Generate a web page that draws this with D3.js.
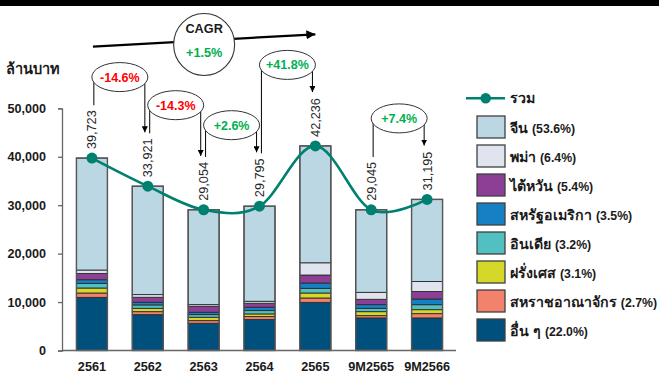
<!DOCTYPE html>
<html><head><meta charset="utf-8">
<script src="https://cdn.jsdelivr.net/npm/d3@7"></script>
<style>
html,body{margin:0;padding:0;background:#fff;}
svg{display:block;font-family:"Liberation Sans",Arial,"DejaVu Sans",sans-serif;}
</style></head>
<body><svg id="c" width="659" height="376"></svg>
<script>
const categories = ["2561","2562","2563","2564","2565","9M2565","9M2566"];
const totals   = [39723,33921,29054,29795,42236,29045,31195];
const others   = [10970,7400,5620,6380,9940,6720,6720];
const uk       = [900,620,550,620,900,480,890];
const france   = [1030,690,690,550,1030,820,820];
const india    = [960,700,550,690,960,690,1030];
const usa      = [750,550,480,690,1100,760,1170];
const taiwan   = [1300,1030,1230,820,1650,1100,1560];
const myanmar  = [700,550,350,410,2530,1440,2060];
const china    = [23113,22381,19584,19635,24126,17035,16945];
const seriesKeys = ["others","uk","france","india","usa","taiwan","myanmar","china"];
const seriesNames = ["อื่น ๆ","สหราชอาณาจักร","ฝรั่งเศส","อินเดีย","สหรัฐอเมริกา","ไต้หวัน","พม่า","จีน"];
const seriesShares = ["(22.0%)","(2.7%)","(3.1%)","(3.2%)","(3.5%)","(5.4%)","(6.4%)","(53.6%)"];
const seriesColors = ["#00507d","#f2826c","#d5d829","#52bfc0","#1680c4","#8c3f95","#dfe4ef","#bad7e3"];
const totalLabel = "รวม";
const yTicks = [0,10000,20000,30000,40000,50000];
const yTitle = "ล้านบาท";
const growthLabels = ["-14.6%","-14.3%","+2.6%","+41.8%","+7.4%"];
const growthFrom = ["2561","2562","2563","2564","9M2565"];
const growthTo   = ["2562","2563","2564","2565","9M2566"];
const cagrTitle = "CAGR";
const cagrValue = "+1.5%";

const seriesData = {others,uk,france,india,usa,taiwan,myanmar,china};
const rows = categories.map((c,i)=>{const r={cat:c,total:totals[i]};seriesKeys.forEach(k=>r[k]=seriesData[k][i]);return r;});

const svg = d3.select("#c");
const W=659,H=376;
svg.append("rect").attr("width",W).attr("height",H).attr("fill","#fff");
svg.append("rect").attr("x",0).attr("y",0).attr("width",W).attr("height",6).attr("fill","#000");

const x = d3.scaleBand().domain(categories).range([64,455]).paddingInner(0.445).paddingOuter(0.2225);
const y = d3.scaleLinear().domain([0,50000]).range([350.5,108.3]);
const cx = c => x(c)+x.bandwidth()/2;

const defs = svg.append("defs");
defs.append("marker").attr("id","arr").attr("viewBox","0 0 10 10").attr("refX",10).attr("refY",5)
  .attr("markerWidth",6).attr("markerHeight",6).attr("markerUnits","userSpaceOnUse").attr("orient","auto")
  .append("path").attr("d","M0,0L10,5L0,10z").attr("fill","#000");
defs.append("marker").attr("id","arr2").attr("viewBox","0 0 10 10").attr("refX",10).attr("refY",5)
  .attr("markerWidth",9).attr("markerHeight",9).attr("markerUnits","userSpaceOnUse").attr("orient","auto")
  .append("path").attr("d","M0,0L10,5L0,10z").attr("fill","#000");

// y axis
const ya = svg.append("g").attr("transform","translate(62,0)")
  .call(d3.axisLeft(y).tickValues(yTicks).tickSize(4).tickPadding(12).tickFormat(d3.format(",")));
ya.select(".domain").attr("stroke","#666").attr("stroke-width",1.3);
ya.selectAll(".tick line").attr("stroke","#666").attr("stroke-width",1.3);
ya.selectAll(".tick text").attr("font-size",12.6).attr("font-weight","bold").attr("fill","#1a1a1a").attr("font-family","Liberation Sans, Arial, sans-serif");

svg.append("text").attr("x",6).attr("y",74).attr("font-size",14.5).attr("font-weight","bold").attr("fill","#1a1a1a").text(yTitle);

// stacked bars
const stack = d3.stack().keys(seriesKeys)(rows);
svg.append("g").selectAll("g").data(stack).join("g")
  .attr("fill",(d,i)=>seriesColors[i])
  .selectAll("rect").data(d=>d).join("rect")
  .attr("x",d=>x(d.data.cat)).attr("width",x.bandwidth())
  .attr("y",d=>y(d[1])).attr("height",d=>y(d[0])-y(d[1]))
  .attr("stroke","#2b2b2b").attr("stroke-width",0.9);
svg.append("g").selectAll("rect").data(rows).join("rect")
  .attr("x",d=>x(d.cat)).attr("width",x.bandwidth()).attr("y",d=>y(d.total)).attr("height",d=>y(0)-y(d.total))
  .attr("fill","none").attr("stroke","#555").attr("stroke-width",1.4);

// x axis
const xa = svg.append("g").attr("transform","translate(0,350.5)").call(d3.axisBottom(x).tickSize(0).tickPadding(11));
xa.select(".domain").attr("d","M62,0H456").attr("stroke","#666").attr("stroke-width",1.3);
xa.selectAll(".tick text").attr("font-size",12.7).attr("font-weight","bold").attr("fill","#1a1a1a").attr("font-family","Liberation Sans, Arial, sans-serif");

// total line
const lineColor = "#00806f";
svg.append("path").datum(rows).attr("fill","none").attr("stroke",lineColor).attr("stroke-width",2.6)
  .attr("d",d3.line().x(d=>cx(d.cat)).y(d=>y(d.total)).curve(d3.curveCatmullRom.alpha(0)));
svg.append("g").selectAll("circle").data(rows).join("circle")
  .attr("cx",d=>cx(d.cat)).attr("cy",d=>y(d.total)).attr("r",5.5).attr("fill",lineColor);

// data labels
const labelTop = {};
const lg = svg.append("g");
rows.forEach(d=>{
  const t = lg.append("text").attr("transform",`translate(${cx(d.cat)},${y(d.total)-9}) rotate(-90)`)
    .attr("dy","0.35em").attr("font-size",12.7).attr("fill","#262626").text(d3.format(",")(d.total));
  labelTop[d.cat] = y(d.total)-9-t.node().getComputedTextLength();
});

// growth annotations
const ag = svg.append("g");
const valOf = c => totals[categories.indexOf(c)];
growthLabels.forEach((lab,i)=>{
  const a=growthFrom[i], b=growthTo[i];
  const ox=(cx(a)+cx(b))/2, oy=y(Math.max(valOf(a),valOf(b)))-81;
  const rx=28, ry=14.5;
  ag.append("line").attr("x1",ox-rx+2).attr("x2",ox-rx+2).attr("y1",oy).attr("y2",labelTop[a]-5).attr("stroke","#000").attr("stroke-width",1);
  ag.append("line").attr("x1",ox+rx-3).attr("x2",ox+rx-3).attr("y1",oy).attr("y2",labelTop[b]-6).attr("stroke","#000").attr("stroke-width",1).attr("marker-end","url(#arr)");
  ag.append("ellipse").attr("cx",ox).attr("cy",oy).attr("rx",rx).attr("ry",ry).attr("fill","#fff").attr("stroke","#333").attr("stroke-width",1);
  ag.append("text").attr("x",ox).attr("y",oy).attr("dy","0.36em").attr("text-anchor","middle")
    .attr("font-size",12.5).attr("font-weight","bold").attr("fill",lab.startsWith("-")?"#ff0000":"#00b050").text(lab);
});

// CAGR
const cx0=cx(categories[0])+1, cx1=cx(categories[4]);
svg.append("line").attr("x1",cx0).attr("y1",46.7).attr("x2",cx1).attr("y2",34.3).attr("stroke","#000").attr("stroke-width",2.2).attr("marker-end","url(#arr2)");
const ccx=(cx0+cx1)/2;
svg.append("ellipse").attr("cx",ccx).attr("cy",44.5).attr("rx",30.5).attr("ry",31).attr("fill","#fff").attr("stroke","#333").attr("stroke-width",1.1);
svg.append("text").attr("x",ccx).attr("y",33).attr("text-anchor","middle").attr("font-size",12.7).attr("font-weight","bold").attr("fill","#1a1a1a").text(cagrTitle);
svg.append("text").attr("x",ccx).attr("y",57).attr("text-anchor","middle").attr("font-size",12.7).attr("font-weight","bold").attr("fill","#00b050").text(cagrValue);

// legend
const leg = svg.append("g");
leg.append("line").attr("x1",466).attr("x2",505).attr("y1",98.3).attr("y2",98.3).attr("stroke",lineColor).attr("stroke-width",2.6);
leg.append("circle").attr("cx",485.7).attr("cy",98.3).attr("r",5.3).attr("fill",lineColor);
leg.append("text").attr("x",510).attr("y",98.3).attr("dy","0.35em").attr("font-size",14.2).attr("font-weight","bold").attr("fill","#1a1a1a").text(totalLabel);
const legOrder = d3.range(seriesKeys.length).reverse();
legOrder.forEach((si,j)=>{
  const yy = 116 + j*29;
  leg.append("rect").attr("x",477).attr("y",yy).attr("width",28).attr("height",22).attr("fill",seriesColors[si]).attr("stroke","#404040").attr("stroke-width",1.3);
  const t = leg.append("text").attr("x",510).attr("y",yy+11).attr("dy","0.35em").attr("font-weight","bold").attr("fill","#1a1a1a");
  t.append("tspan").attr("font-size",14.2).text(seriesNames[si]+" ");
  t.append("tspan").attr("font-size",12.3).text(seriesShares[si]);
  const w = t.node().getComputedTextLength();
  if (510 + w > 657) t.attr("textLength", 657-510).attr("lengthAdjust","spacingAndGlyphs");
});
</script></body></html>
